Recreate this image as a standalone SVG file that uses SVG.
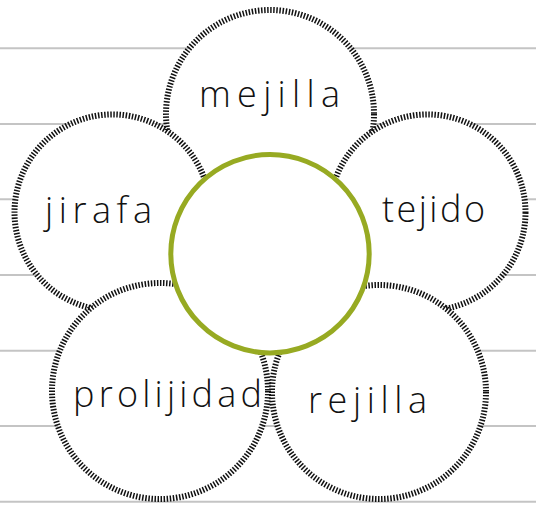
<svg xmlns="http://www.w3.org/2000/svg" width="536" height="506" viewBox="0 0 536 506">
<style>
.rule{stroke:#c4c4c4;stroke-width:2;fill:none}
.petal{fill:#fff;stroke:#111;stroke-width:6;stroke-dasharray:1.5 1.6}
.center{fill:#fff;stroke:#97aa22;stroke-width:5}
.word{font-family:"Open Sans","DejaVu Sans",sans-serif;font-weight:300;font-size:36px;fill:#111}
</style>
<rect width="536" height="506" fill="#fff"/>
<g id="rules">
<line class="rule" x1="0" y1="48.3" x2="536" y2="48.3"/>
<line class="rule" x1="0" y1="124" x2="536" y2="124"/>
<line class="rule" x1="0" y1="199.3" x2="536" y2="199.3"/>
<line class="rule" x1="0" y1="275" x2="536" y2="275"/>
<line class="rule" x1="0" y1="350.7" x2="536" y2="350.7"/>
<line class="rule" x1="0" y1="426" x2="536" y2="426"/>
<line class="rule" x1="0" y1="501.7" x2="536" y2="501.7"/>
</g>
<g id="connectors"></g>
<g id="node-mejilla">
<circle class="petal" cx="270" cy="114" r="104"/>
<text class="word" x="199" y="107" textLength="141" lengthAdjust="spacing">mejilla</text>
</g>
<g id="node-jirafa">
<circle class="petal" cx="112.5" cy="212.4" r="98"/>
<text class="word" x="45" y="223" textLength="107" lengthAdjust="spacing">jirafa</text>
</g>
<g id="node-tejido">
<circle class="petal" cx="427.5" cy="212.4" r="98"/>
<text class="word" x="382" y="221.7" textLength="103" lengthAdjust="spacing">tejido</text>
</g>
<g id="node-prolijidad">
<circle class="petal" cx="160" cy="391" r="108"/>
<text class="word" x="73" y="406.7" textLength="189" lengthAdjust="spacing">prolijidad</text>
</g>
<g id="node-rejilla">
<circle class="petal" cx="379" cy="392" r="107"/>
<text class="word" x="308" y="413.3" textLength="119" lengthAdjust="spacing">rejilla</text>
</g>
<g id="node-center">
<circle class="center" cx="270" cy="253.7" r="99.2"/>
</g>
</svg>
